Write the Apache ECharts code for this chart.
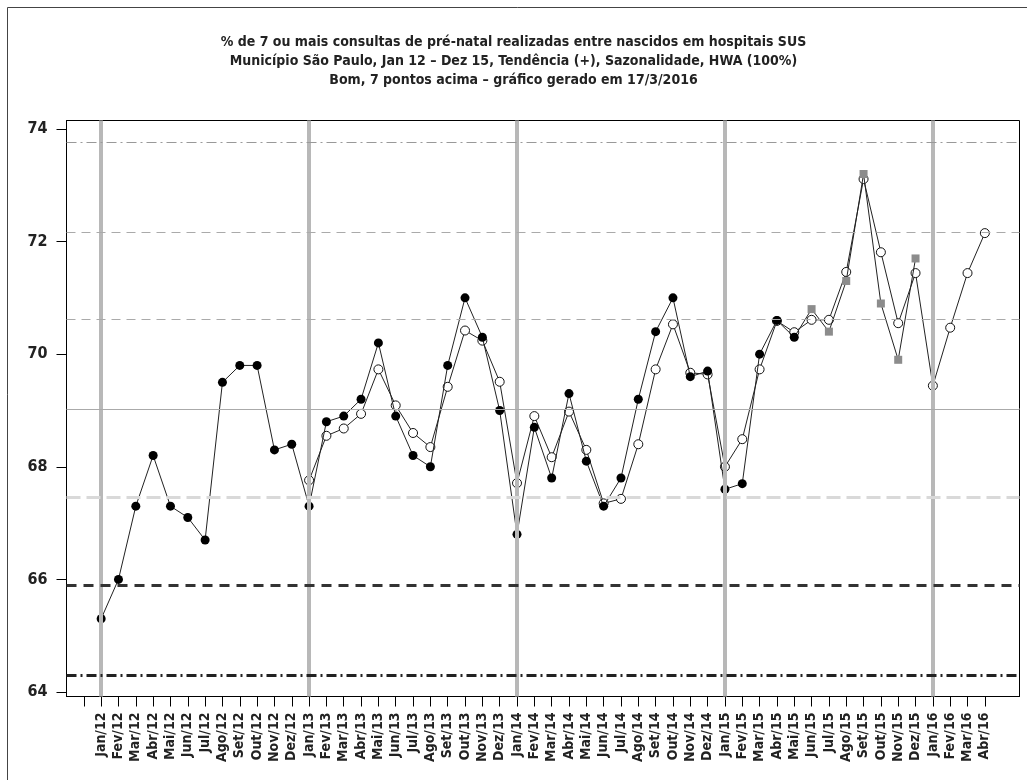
<!DOCTYPE html>
<html>
<head>
<meta charset="utf-8">
<script src="https://cdn.jsdelivr.net/npm/echarts@6/dist/echarts.min.js"></script>
<style>
  html, body { margin: 0; padding: 0; background: #fff; }
  #chart { width: 1027px; height: 780px; }
</style>
</head>
<body>
<div id="chart"></div>
<script>
// rótulos do eixo x (um por mês)
var months = [
  'Jan/12', 'Fev/12', 'Mar/12', 'Abr/12', 'Mai/12', 'Jun/12', 'Jul/12', 'Ago/12', 'Set/12', 'Out/12', 'Nov/12', 'Dez/12',
  'Jan/13', 'Fev/13', 'Mar/13', 'Abr/13', 'Mai/13', 'Jun/13', 'Jul/13', 'Ago/13', 'Set/13', 'Out/13', 'Nov/13', 'Dez/13',
  'Jan/14', 'Fev/14', 'Mar/14', 'Abr/14', 'Mai/14', 'Jun/14', 'Jul/14', 'Ago/14', 'Set/14', 'Out/14', 'Nov/14', 'Dez/14',
  'Jan/15', 'Fev/15', 'Mar/15', 'Abr/15', 'Mai/15', 'Jun/15', 'Jul/15', 'Ago/15', 'Set/15', 'Out/15', 'Nov/15', 'Dez/15',
  'Jan/16', 'Fev/16', 'Mar/16', 'Abr/16'
]

// valores observados Jan/12 .. Dez/15
var observed = [
  65.3, 66.0, 67.3, 68.2, 67.3, 67.1, 66.7, 69.5, 69.8, 69.8, 68.3, 68.4,
  67.3, 68.8, 68.9, 69.2, 70.2, 68.9, 68.2, 68.0, 69.8, 71.0, 70.3, 69.0,
  66.8, 68.7, 67.8, 69.3, 68.1, 67.3, 67.8, 69.2, 70.4, 71.0, 69.6, 69.7,
  67.6, 67.7, 70.0, 70.6, 70.3, 70.8, 70.4, 71.3, 73.2, 70.9, 69.9, 71.7
]
// a partir deste índice os pontos observados viram quadrados cinza
var squareFrom = 41

// valores ajustados (HWA) Jan/13 .. Abr/16
var fittedStart = 12
var fitted = [
  67.76, 68.55, 68.68, 68.94, 69.73, 69.09, 68.6, 68.35, 69.42, 70.42, 70.24, 69.51,
  67.71, 68.9, 68.17, 68.98, 68.3, 67.35, 67.43, 68.4, 69.73, 70.53, 69.67, 69.64,
  68.0, 68.49, 69.73, 70.59, 70.39, 70.61, 70.61, 71.46, 73.11, 71.81, 70.55, 71.44,
  69.44, 70.47, 71.44, 72.15
]

// linhas de controle (de cima para baixo)
var limits = [73.77, 72.17, 70.62, 69.03, 67.45, 65.9, 64.29]
// inícios de ano
var yearStarts = [0, 12, 24, 36, 48]
var yTicks = [64, 66, 68, 70, 72, 74]

var limitStyles = [
  { color: '#999', width: 1, type: [10, 4, 2, 4] },
  { color: '#aaa', width: 1, type: [9, 6] },
  { color: '#aaa', width: 1, type: [9, 6] },
  { color: '#aaa', width: 1, type: 'solid' },
  { color: '#d9d9d9', width: 3, type: [14, 6] },
  { color: '#333', width: 3, type: [10, 7] },
  { color: '#222', width: 3, type: [10, 4, 2, 4] }
]

var font = '"DejaVu Sans Condensed", "DejaVu Sans", sans-serif'

var obsData = observed.map(function (v, i) {
  if (i >= squareFrom) {
    return { value: [i, v], symbol: 'rect', symbolSize: 8, itemStyle: { color: '#8c8c8c' } }
  }
  return { value: [i, v] }
})
var fitData = fitted.map(function (v, i) {
  return [i + fittedStart, v]
})
var tickIdx = [-1].concat(months.map(function (m, i) { return i }))
var labelIdx = months.map(function (m, i) { return i })

var option = {
  backgroundColor: '#fff',
  animation: false,
  title: {
    text: '% de 7 ou mais consultas de pré-natal realizadas entre nascidos em hospitais SUS\n' +
      'Município São Paulo, Jan 12 – Dez 15, Tendência (+), Sazonalidade, HWA (100%)\n' +
      'Bom, 7 pontos acima – gráfico gerado em 17/3/2016',
    left: 'center',
    top: 28,
    textStyle: {
      fontFamily: font,
      fontWeight: 'bold',
      fontSize: 14,
      lineHeight: 19,
      color: '#222'
    }
  },
  graphic: [{
    type: 'rect',
    shape: { x: 7.5, y: 7.5, width: 1040, height: 800 },
    style: { fill: null, stroke: '#444', lineWidth: 1 },
    silent: true
  }],
  grid: {
    left: 66.5,
    right: 7.5,
    top: 120.5,
    bottom: 83.5,
    show: true,
    borderColor: '#000',
    borderWidth: 1
  },
  xAxis: {
    type: 'value',
    min: -2,
    max: 53,
    splitLine: { show: false },
    axisLine: { onZero: false, lineStyle: { color: '#000', width: 1 } },
    axisTick: {
      show: true,
      length: 10,
      customValues: tickIdx,
      lineStyle: { color: '#000' }
    },
    axisLabel: {
      customValues: labelIdx,
      rotate: 90,
      margin: 16,
      fontFamily: font,
      fontWeight: 'bold',
      fontSize: 14,
      color: '#222',
      formatter: function (v) { return months[v] || '' }
    }
  },
  yAxis: {
    type: 'value',
    min: 63.92,
    max: 74.15,
    splitLine: { show: false },
    axisLine: { show: true, onZero: false, lineStyle: { color: '#000', width: 1 } },
    axisTick: {
      show: true,
      length: 10,
      customValues: yTicks,
      lineStyle: { color: '#000' }
    },
    axisLabel: {
      customValues: yTicks,
      margin: 19,
      fontFamily: font,
      fontWeight: 'bold',
      fontSize: 16,
      color: '#222'
    }
  },
  series: [
    {
      name: 'ref',
      type: 'line',
      data: [],
      z: 1,
      silent: true,
      markLine: {
        silent: true,
        symbol: 'none',
        label: { show: false },
        animation: false,
        data: yearStarts.map(function (x) {
          return { xAxis: x, lineStyle: { color: '#b8b8b8', width: 4, type: 'solid' } }
        }).concat(limits.map(function (y, i) {
          return { yAxis: y, lineStyle: limitStyles[i] }
        }))
      }
    },
    {
      name: 'HWA',
      type: 'line',
      z: 3,
      data: fitData,
      symbol: 'circle',
      symbolSize: 9,
      showAllSymbol: true,
      lineStyle: { color: '#222', width: 1 },
      itemStyle: { color: '#fff', borderColor: '#111', borderWidth: 1 }
    },
    {
      name: 'Observado',
      type: 'line',
      z: 4,
      data: obsData,
      symbol: 'circle',
      symbolSize: 9,
      showAllSymbol: true,
      lineStyle: { color: '#222', width: 1 },
      itemStyle: { color: '#000' }
    }
  ]
}

var myChart = echarts.init(document.getElementById('chart'))
myChart.setOption(option)
</script>
</body>
</html>
